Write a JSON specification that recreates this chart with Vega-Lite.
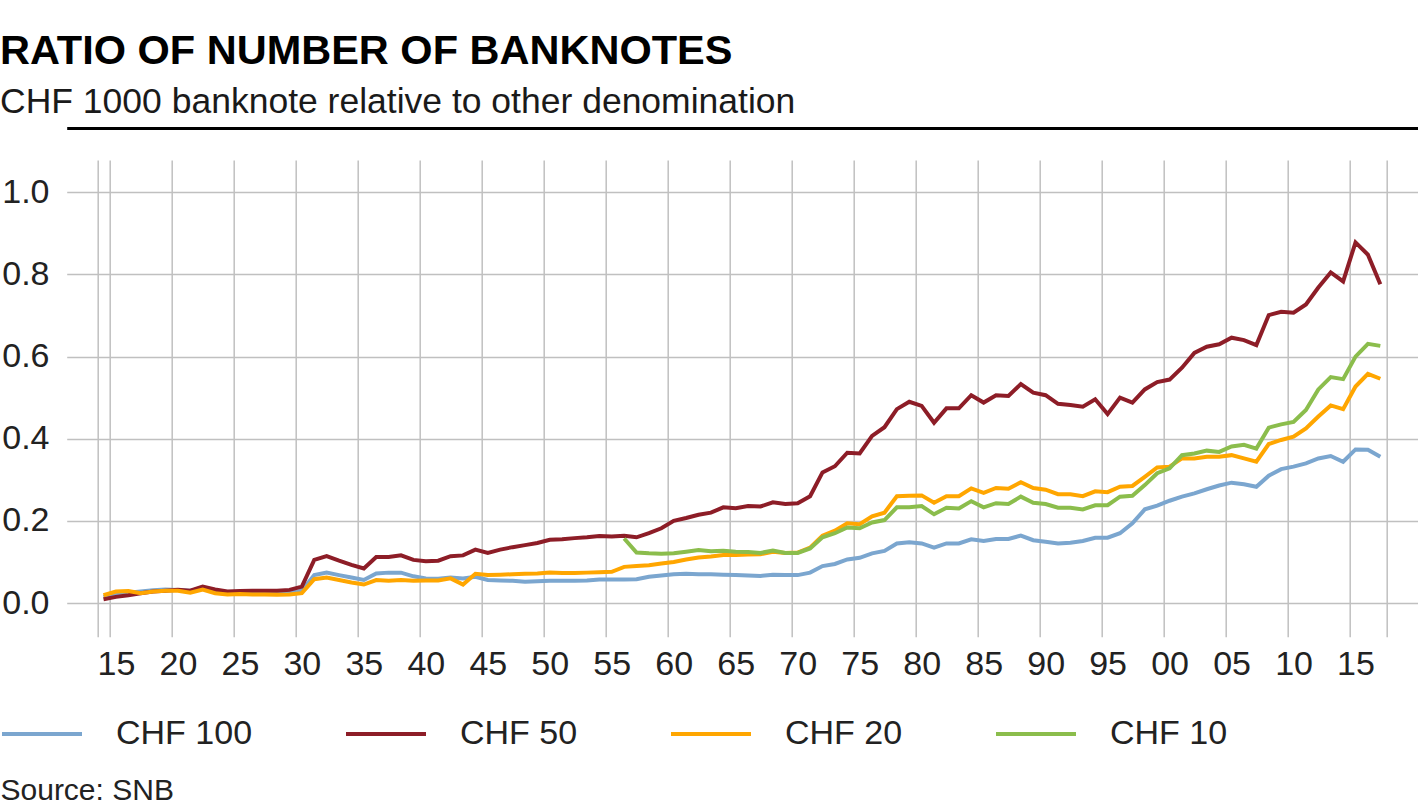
{
  "$schema": "https://vega.github.io/schema/vega-lite/v6.json",
  "autosize": "none",
  "width": 1351.3,
  "height": 476.7,
  "padding": {"left": 66.7, "top": 160, "right": 0, "bottom": 170.3},
  "background": "white",
  "config": {"view": {"stroke": null}, "font": "Liberation Sans"},
  "title": {
    "text": "RATIO OF NUMBER OF BANKNOTES",
    "subtitle": "CHF 1000 banknote relative to other denomination",
    "anchor": "start",
    "frame": "group",
    "dx": -66.7,
    "offset": 8,
    "font": "Liberation Sans",
    "fontSize": 41.5,
    "fontWeight": "bold",
    "color": "#000000",
    "subtitleFont": "Liberation Sans",
    "subtitleFontSize": 35.5,
    "subtitleColor": "#1a1a1a",
    "subtitlePadding": 12
  },
  "data": {
    "values": [
      {"year": 1914, "CHF 100": 0.015, "CHF 50": 0.009, "CHF 20": 0.019, "CHF 10": null},
      {"year": 1915, "CHF 100": 0.022, "CHF 50": 0.015, "CHF 20": 0.028, "CHF 10": null},
      {"year": 1916, "CHF 100": 0.025, "CHF 50": 0.019, "CHF 20": 0.029, "CHF 10": null},
      {"year": 1917, "CHF 100": 0.028, "CHF 50": 0.024, "CHF 20": 0.024, "CHF 10": null},
      {"year": 1918, "CHF 100": 0.031, "CHF 50": 0.028, "CHF 20": 0.028, "CHF 10": null},
      {"year": 1919, "CHF 100": 0.033, "CHF 50": 0.030, "CHF 20": 0.030, "CHF 10": null},
      {"year": 1920, "CHF 100": 0.032, "CHF 50": 0.032, "CHF 20": 0.030, "CHF 10": null},
      {"year": 1921, "CHF 100": 0.030, "CHF 50": 0.030, "CHF 20": 0.025, "CHF 10": null},
      {"year": 1922, "CHF 100": 0.036, "CHF 50": 0.040, "CHF 20": 0.033, "CHF 10": null},
      {"year": 1923, "CHF 100": 0.028, "CHF 50": 0.033, "CHF 20": 0.024, "CHF 10": null},
      {"year": 1924, "CHF 100": 0.025, "CHF 50": 0.028, "CHF 20": 0.021, "CHF 10": null},
      {"year": 1925, "CHF 100": 0.025, "CHF 50": 0.029, "CHF 20": 0.022, "CHF 10": null},
      {"year": 1926, "CHF 100": 0.025, "CHF 50": 0.030, "CHF 20": 0.021, "CHF 10": null},
      {"year": 1927, "CHF 100": 0.024, "CHF 50": 0.030, "CHF 20": 0.021, "CHF 10": null},
      {"year": 1928, "CHF 100": 0.024, "CHF 50": 0.030, "CHF 20": 0.020, "CHF 10": null},
      {"year": 1929, "CHF 100": 0.025, "CHF 50": 0.032, "CHF 20": 0.021, "CHF 10": null},
      {"year": 1930, "CHF 100": 0.030, "CHF 50": 0.040, "CHF 20": 0.024, "CHF 10": null},
      {"year": 1931, "CHF 100": 0.068, "CHF 50": 0.105, "CHF 20": 0.058, "CHF 10": null},
      {"year": 1932, "CHF 100": 0.074, "CHF 50": 0.114, "CHF 20": 0.062, "CHF 10": null},
      {"year": 1933, "CHF 100": 0.068, "CHF 50": 0.103, "CHF 20": 0.056, "CHF 10": null},
      {"year": 1934, "CHF 100": 0.062, "CHF 50": 0.093, "CHF 20": 0.050, "CHF 10": null},
      {"year": 1935, "CHF 100": 0.056, "CHF 50": 0.084, "CHF 20": 0.045, "CHF 10": null},
      {"year": 1936, "CHF 100": 0.072, "CHF 50": 0.112, "CHF 20": 0.056, "CHF 10": null},
      {"year": 1937, "CHF 100": 0.074, "CHF 50": 0.112, "CHF 20": 0.054, "CHF 10": null},
      {"year": 1938, "CHF 100": 0.074, "CHF 50": 0.116, "CHF 20": 0.056, "CHF 10": null},
      {"year": 1939, "CHF 100": 0.065, "CHF 50": 0.105, "CHF 20": 0.054, "CHF 10": null},
      {"year": 1940, "CHF 100": 0.060, "CHF 50": 0.102, "CHF 20": 0.055, "CHF 10": null},
      {"year": 1941, "CHF 100": 0.059, "CHF 50": 0.103, "CHF 20": 0.055, "CHF 10": null},
      {"year": 1942, "CHF 100": 0.062, "CHF 50": 0.114, "CHF 20": 0.060, "CHF 10": null},
      {"year": 1943, "CHF 100": 0.060, "CHF 50": 0.116, "CHF 20": 0.045, "CHF 10": null},
      {"year": 1944, "CHF 100": 0.064, "CHF 50": 0.130, "CHF 20": 0.071, "CHF 10": null},
      {"year": 1945, "CHF 100": 0.056, "CHF 50": 0.122, "CHF 20": 0.068, "CHF 10": null},
      {"year": 1946, "CHF 100": 0.055, "CHF 50": 0.130, "CHF 20": 0.069, "CHF 10": null},
      {"year": 1947, "CHF 100": 0.054, "CHF 50": 0.136, "CHF 20": 0.070, "CHF 10": null},
      {"year": 1948, "CHF 100": 0.052, "CHF 50": 0.141, "CHF 20": 0.071, "CHF 10": null},
      {"year": 1949, "CHF 100": 0.053, "CHF 50": 0.146, "CHF 20": 0.072, "CHF 10": null},
      {"year": 1950, "CHF 100": 0.054, "CHF 50": 0.154, "CHF 20": 0.074, "CHF 10": null},
      {"year": 1951, "CHF 100": 0.054, "CHF 50": 0.155, "CHF 20": 0.073, "CHF 10": null},
      {"year": 1952, "CHF 100": 0.054, "CHF 50": 0.158, "CHF 20": 0.073, "CHF 10": null},
      {"year": 1953, "CHF 100": 0.055, "CHF 50": 0.160, "CHF 20": 0.074, "CHF 10": null},
      {"year": 1954, "CHF 100": 0.057, "CHF 50": 0.163, "CHF 20": 0.075, "CHF 10": null},
      {"year": 1955, "CHF 100": 0.057, "CHF 50": 0.162, "CHF 20": 0.076, "CHF 10": null},
      {"year": 1956, "CHF 100": 0.057, "CHF 50": 0.164, "CHF 20": 0.088, "CHF 10": 0.157},
      {"year": 1957, "CHF 100": 0.058, "CHF 50": 0.160, "CHF 20": 0.090, "CHF 10": 0.123},
      {"year": 1958, "CHF 100": 0.064, "CHF 50": 0.170, "CHF 20": 0.092, "CHF 10": 0.121},
      {"year": 1959, "CHF 100": 0.067, "CHF 50": 0.182, "CHF 20": 0.096, "CHF 10": 0.120},
      {"year": 1960, "CHF 100": 0.070, "CHF 50": 0.200, "CHF 20": 0.100, "CHF 10": 0.121},
      {"year": 1961, "CHF 100": 0.071, "CHF 50": 0.207, "CHF 20": 0.106, "CHF 10": 0.125},
      {"year": 1962, "CHF 100": 0.070, "CHF 50": 0.215, "CHF 20": 0.111, "CHF 10": 0.129},
      {"year": 1963, "CHF 100": 0.070, "CHF 50": 0.220, "CHF 20": 0.113, "CHF 10": 0.126},
      {"year": 1964, "CHF 100": 0.069, "CHF 50": 0.233, "CHF 20": 0.117, "CHF 10": 0.127},
      {"year": 1965, "CHF 100": 0.068, "CHF 50": 0.231, "CHF 20": 0.117, "CHF 10": 0.125},
      {"year": 1966, "CHF 100": 0.067, "CHF 50": 0.236, "CHF 20": 0.118, "CHF 10": 0.124},
      {"year": 1967, "CHF 100": 0.066, "CHF 50": 0.235, "CHF 20": 0.119, "CHF 10": 0.122},
      {"year": 1968, "CHF 100": 0.069, "CHF 50": 0.245, "CHF 20": 0.125, "CHF 10": 0.128},
      {"year": 1969, "CHF 100": 0.068, "CHF 50": 0.241, "CHF 20": 0.122, "CHF 10": 0.122},
      {"year": 1970, "CHF 100": 0.068, "CHF 50": 0.243, "CHF 20": 0.123, "CHF 10": 0.122},
      {"year": 1971, "CHF 100": 0.074, "CHF 50": 0.260, "CHF 20": 0.135, "CHF 10": 0.133},
      {"year": 1972, "CHF 100": 0.090, "CHF 50": 0.318, "CHF 20": 0.164, "CHF 10": 0.160},
      {"year": 1973, "CHF 100": 0.095, "CHF 50": 0.333, "CHF 20": 0.176, "CHF 10": 0.170},
      {"year": 1974, "CHF 100": 0.106, "CHF 50": 0.366, "CHF 20": 0.194, "CHF 10": 0.184},
      {"year": 1975, "CHF 100": 0.110, "CHF 50": 0.364, "CHF 20": 0.192, "CHF 10": 0.182},
      {"year": 1976, "CHF 100": 0.121, "CHF 50": 0.407, "CHF 20": 0.211, "CHF 10": 0.196},
      {"year": 1977, "CHF 100": 0.127, "CHF 50": 0.428, "CHF 20": 0.220, "CHF 10": 0.202},
      {"year": 1978, "CHF 100": 0.145, "CHF 50": 0.472, "CHF 20": 0.260, "CHF 10": 0.233},
      {"year": 1979, "CHF 100": 0.148, "CHF 50": 0.490, "CHF 20": 0.261, "CHF 10": 0.233},
      {"year": 1980, "CHF 100": 0.145, "CHF 50": 0.480, "CHF 20": 0.262, "CHF 10": 0.236},
      {"year": 1981, "CHF 100": 0.135, "CHF 50": 0.439, "CHF 20": 0.244, "CHF 10": 0.216},
      {"year": 1982, "CHF 100": 0.145, "CHF 50": 0.474, "CHF 20": 0.260, "CHF 10": 0.232},
      {"year": 1983, "CHF 100": 0.145, "CHF 50": 0.474, "CHF 20": 0.260, "CHF 10": 0.230},
      {"year": 1984, "CHF 100": 0.155, "CHF 50": 0.506, "CHF 20": 0.279, "CHF 10": 0.248},
      {"year": 1985, "CHF 100": 0.151, "CHF 50": 0.488, "CHF 20": 0.268, "CHF 10": 0.233},
      {"year": 1986, "CHF 100": 0.156, "CHF 50": 0.506, "CHF 20": 0.280, "CHF 10": 0.243},
      {"year": 1987, "CHF 100": 0.156, "CHF 50": 0.504, "CHF 20": 0.278, "CHF 10": 0.241},
      {"year": 1988, "CHF 100": 0.164, "CHF 50": 0.533, "CHF 20": 0.294, "CHF 10": 0.259},
      {"year": 1989, "CHF 100": 0.153, "CHF 50": 0.512, "CHF 20": 0.280, "CHF 10": 0.244},
      {"year": 1990, "CHF 100": 0.149, "CHF 50": 0.506, "CHF 20": 0.276, "CHF 10": 0.241},
      {"year": 1991, "CHF 100": 0.145, "CHF 50": 0.485, "CHF 20": 0.265, "CHF 10": 0.232},
      {"year": 1992, "CHF 100": 0.147, "CHF 50": 0.482, "CHF 20": 0.265, "CHF 10": 0.232},
      {"year": 1993, "CHF 100": 0.151, "CHF 50": 0.478, "CHF 20": 0.260, "CHF 10": 0.228},
      {"year": 1994, "CHF 100": 0.159, "CHF 50": 0.496, "CHF 20": 0.272, "CHF 10": 0.238},
      {"year": 1995, "CHF 100": 0.159, "CHF 50": 0.460, "CHF 20": 0.270, "CHF 10": 0.238},
      {"year": 1996, "CHF 100": 0.170, "CHF 50": 0.500, "CHF 20": 0.283, "CHF 10": 0.259},
      {"year": 1997, "CHF 100": 0.194, "CHF 50": 0.488, "CHF 20": 0.285, "CHF 10": 0.261},
      {"year": 1998, "CHF 100": 0.228, "CHF 50": 0.520, "CHF 20": 0.307, "CHF 10": 0.287},
      {"year": 1999, "CHF 100": 0.237, "CHF 50": 0.538, "CHF 20": 0.330, "CHF 10": 0.316},
      {"year": 2000, "CHF 100": 0.249, "CHF 50": 0.544, "CHF 20": 0.332, "CHF 10": 0.328},
      {"year": 2001, "CHF 100": 0.259, "CHF 50": 0.573, "CHF 20": 0.352, "CHF 10": 0.360},
      {"year": 2002, "CHF 100": 0.267, "CHF 50": 0.609, "CHF 20": 0.352, "CHF 10": 0.364},
      {"year": 2003, "CHF 100": 0.277, "CHF 50": 0.624, "CHF 20": 0.356, "CHF 10": 0.371},
      {"year": 2004, "CHF 100": 0.286, "CHF 50": 0.630, "CHF 20": 0.356, "CHF 10": 0.368},
      {"year": 2005, "CHF 100": 0.293, "CHF 50": 0.646, "CHF 20": 0.360, "CHF 10": 0.381},
      {"year": 2006, "CHF 100": 0.289, "CHF 50": 0.640, "CHF 20": 0.352, "CHF 10": 0.385},
      {"year": 2007, "CHF 100": 0.283, "CHF 50": 0.628, "CHF 20": 0.344, "CHF 10": 0.376},
      {"year": 2008, "CHF 100": 0.310, "CHF 50": 0.701, "CHF 20": 0.387, "CHF 10": 0.427},
      {"year": 2009, "CHF 100": 0.326, "CHF 50": 0.709, "CHF 20": 0.397, "CHF 10": 0.435},
      {"year": 2010, "CHF 100": 0.332, "CHF 50": 0.707, "CHF 20": 0.405, "CHF 10": 0.441},
      {"year": 2011, "CHF 100": 0.340, "CHF 50": 0.727, "CHF 20": 0.425, "CHF 10": 0.470},
      {"year": 2012, "CHF 100": 0.352, "CHF 50": 0.768, "CHF 20": 0.454, "CHF 10": 0.520},
      {"year": 2013, "CHF 100": 0.358, "CHF 50": 0.805, "CHF 20": 0.481, "CHF 10": 0.550},
      {"year": 2014, "CHF 100": 0.344, "CHF 50": 0.783, "CHF 20": 0.472, "CHF 10": 0.545},
      {"year": 2015, "CHF 100": 0.374, "CHF 50": 0.878, "CHF 20": 0.527, "CHF 10": 0.600},
      {"year": 2016, "CHF 100": 0.373, "CHF 50": 0.848, "CHF 20": 0.558, "CHF 10": 0.631},
      {"year": 2017, "CHF 100": 0.356, "CHF 50": 0.776, "CHF 20": 0.546, "CHF 10": 0.626}
    ]
  },
  "transform": [
    {"fold": ["CHF 100", "CHF 50", "CHF 20", "CHF 10"], "as": ["note", "ratio"]}
  ],
  "encoding": {
    "y": {
      "field": "ratio",
      "type": "quantitative",
      "scale": {"domain": [-0.082, 1.0786], "nice": false, "zero": false},
      "axis": {
        "values": [0, 0.2, 0.4, 0.6, 0.8, 1.0],
        "format": ".1f",
        "grid": true,
        "gridColor": "#C0C0C0",
        "gridWidth": 1.5,
        "ticks": false,
        "domain": false,
        "labelPadding": 17.7,
        "labelFontSize": 34,
        "labelFont": "Liberation Sans",
        "labelColor": "#222222",
        "title": null
      }
    }
  },
  "layer": [
    {
      "mark": {"type": "line", "strokeWidth": 4, "strokeJoin": "miter"},
      "encoding": {
        "x": {
          "field": "year",
          "type": "quantitative",
          "scale": {"domain": [1911.03, 2020.04], "nice": false, "zero": false},
          "axis": {
            "orient": "bottom",
            "values": [1913.5, 1914.5, 1919.5, 1924.5, 1929.5, 1934.5, 1939.5, 1944.5, 1949.5, 1954.5, 1959.5, 1964.5, 1969.5, 1974.5, 1979.5, 1984.5, 1989.5, 1994.5, 1999.5, 2004.5, 2009.5, 2014.5, 2017.5],
            "labelExpr": "datum.value < 1914 || datum.value > 2015 ? '' : slice(toString(datum.value + 0.5), 2)",
            "grid": true,
            "gridColor": "#C0C0C0",
            "gridWidth": 1.5,
            "ticks": false,
            "domain": false,
            "labelOffset": 6.2,
            "labelPadding": 11,
            "labelFontSize": 34,
            "labelFont": "Liberation Sans",
            "labelColor": "#222222",
            "labelOverlap": false,
            "labelFlush": false,
            "title": "Source: SNB",
            "titleFont": "Liberation Sans",
            "titleFontSize": 30,
            "titleFontWeight": "normal",
            "titleColor": "#222222",
            "titleAnchor": "start",
            "titleAlign": "left",
            "titleBaseline": "alphabetic",
            "titleX": -66.7,
            "titleY": 163
          }
        },
        "color": {
          "field": "note",
          "type": "nominal",
          "scale": {
            "domain": ["CHF 100", "CHF 50", "CHF 20", "CHF 10"],
            "range": ["#7BA6CF", "#8D1D27", "#FFA600", "#8BBD4C"]
          },
          "legend": {
            "orient": "none",
            "legendX": -66.7,
            "legendY": 532,
            "direction": "horizontal",
            "columns": 4,
            "gridAlign": "none",
            "columnPadding": 85,
            "title": null,
            "symbolType": "stroke",
            "symbolSize": 6400,
            "symbolStrokeWidth": 4,
            "symbolOpacity": 1,
            "labelOffset": 32,
            "labelFontSize": 34,
            "labelFont": "Liberation Sans",
            "labelColor": "#222222",
            "labelLimit": 400,
            "padding": 0
          }
        }
      }
    },
    {
      "mark": {"type": "point", "opacity": 0},
      "encoding": {
        "x": {
          "field": "year",
          "type": "quantitative",
          "axis": {
            "orient": "top",
            "offset": 32,
            "domain": true,
            "domainColor": "#000000",
            "domainWidth": 3,
            "labels": false,
            "ticks": false,
            "grid": false,
            "title": null
          }
        }
      }
    }
  ],
  "resolve": {"axis": {"x": "independent"}}
}
